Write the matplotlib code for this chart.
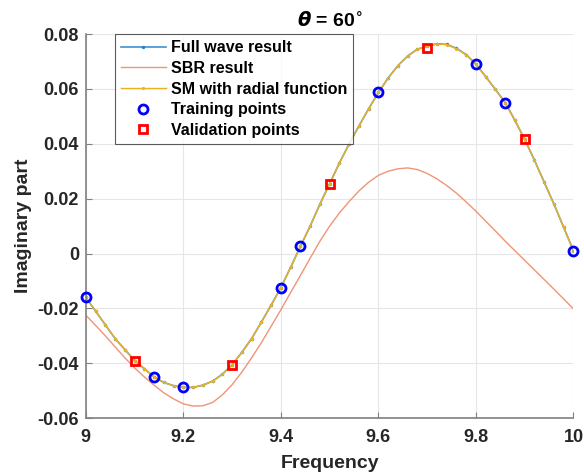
import matplotlib
matplotlib.use("Agg")
import matplotlib.pyplot as plt
import numpy as np

plt.rcParams['font.family'] = ['Liberation Sans', 'DejaVu Sans']
plt.rcParams['font.weight'] = 'bold'

freq_full = [9.00, 9.02, 9.04, 9.06, 9.08, 9.10, 9.12, 9.14, 9.16, 9.18, 9.20, 9.22, 9.24,
             9.26, 9.28, 9.30, 9.32, 9.34, 9.36, 9.38, 9.40, 9.42, 9.44, 9.46, 9.48, 9.50,
             9.52, 9.54, 9.56, 9.58, 9.60, 9.62, 9.64, 9.66, 9.68, 9.70, 9.72, 9.74, 9.76,
             9.78, 9.80, 9.82, 9.84, 9.86, 9.88, 9.90, 9.92, 9.94, 9.96, 9.98, 10.00]
full_wave = [-0.016, -0.021, -0.026, -0.031, -0.035, -0.039, -0.042, -0.045, -0.047, -0.0482,
             -0.0488, -0.0488, -0.048, -0.0465, -0.044, -0.0405, -0.036, -0.031, -0.025, -0.0188,
             -0.0124, -0.005, 0.0026, 0.010, 0.018, 0.0255, 0.033, 0.040, 0.0465, 0.0528,
             0.0587, 0.064, 0.0685, 0.072, 0.0745, 0.0755, 0.0765, 0.0762, 0.0748, 0.0725,
             0.069, 0.0645, 0.0598, 0.055, 0.0485, 0.0416, 0.034, 0.026, 0.018, 0.0095, 0.001]
sm_radial = [-0.016, -0.021, -0.026, -0.031, -0.035, -0.039, -0.042, -0.045, -0.047, -0.0482,
             -0.0488, -0.0488, -0.048, -0.0465, -0.044, -0.0405, -0.036, -0.031, -0.025, -0.0188,
             -0.0124, -0.005, 0.0026, 0.010, 0.018, 0.0255, 0.033, 0.040, 0.0465, 0.0528,
             0.0587, 0.064, 0.0685, 0.072, 0.0745, 0.0755, 0.0764, 0.0761, 0.0747, 0.0724,
             0.069, 0.0645, 0.0598, 0.055, 0.0485, 0.0416, 0.034, 0.026, 0.018, 0.0095, 0.001]

freq_sbr = freq_full
sbr = [-0.0225, -0.0262, -0.030, -0.034, -0.038, -0.0417, -0.045, -0.048, -0.0508, -0.053,
       -0.0548, -0.0556, -0.0555, -0.0543, -0.0515, -0.0478, -0.0432, -0.038, -0.0325, -0.0265,
       -0.0205, -0.0142, -0.008, -0.0017, 0.0045, 0.010, 0.0148, 0.019, 0.0228, 0.026,
       0.0285, 0.0300, 0.0309, 0.0312, 0.0306, 0.0292, 0.0272, 0.0248, 0.0220, 0.0188,
       0.0154, 0.0118, 0.0082, 0.0045, 0.001, -0.0025, -0.006, -0.0095, -0.013, -0.0166, -0.0202]

train_f = [9.00, 9.14, 9.20, 9.40, 9.44, 9.60, 9.80, 9.86, 10.00]
train_v = [-0.016, -0.045, -0.0488, -0.0124, 0.0026, 0.0587, 0.069, 0.055, 0.001]
valid_f = [9.10, 9.30, 9.50, 9.70, 9.90]
valid_v = [-0.039, -0.0405, 0.0255, 0.075, 0.0416]

fig = plt.figure(figsize=(5.84, 4.73), dpi=100)
ax = fig.add_axes([0.147, 0.116, 0.835, 0.812])

ax.plot(freq_full, full_wave, color=(0.1, 0.5, 0.78), lw=1.2, marker='.', ms=3,
        label='Full wave result', alpha=0.85)
ax.plot(freq_sbr, sbr, color=(0.94, 0.58, 0.47), lw=1.0, label='SBR result')
ax.plot(freq_full, sm_radial, color=(0.929, 0.694, 0.125), lw=1.0, marker='.', ms=2.5,
        label='SM with radial function')
ax.plot(train_f, train_v, ls='none', marker='o', ms=6.5, mfc='none', mec='blue', mew=2,
        label='Training points', clip_on=False, zorder=5)
ax.plot(valid_f, valid_v, ls='none', marker='s', ms=5.5, mfc='none', mec='red', mew=2,
        label='Validation points', clip_on=False, zorder=5)

ax.set_xlim(9, 10)
ax.set_ylim(-0.06, 0.08)
ax.set_xticks([9, 9.2, 9.4, 9.6, 9.8, 10])
ax.set_xticklabels(['9', '9.2', '9.4', '9.6', '9.8', '10'])
ax.set_yticks([-0.06, -0.04, -0.02, 0, 0.02, 0.04, 0.06, 0.08])
ax.set_yticklabels(['-0.06', '-0.04', '-0.02', '0', '0.02', '0.04', '0.06', '0.08'])
ax.grid(True, color=(0.9, 0.9, 0.9), lw=0.8)
ax.set_axisbelow(True)
for s in ['top', 'right']:
    ax.spines[s].set_visible(False)
for s in ['left', 'bottom']:
    ax.spines[s].set_color((0.5, 0.5, 0.5))
    ax.spines[s].set_linewidth(1.2)
ax.tick_params(direction='in', length=4, color=(0.5, 0.5, 0.5), labelsize=13,
               labelcolor=(0.15, 0.15, 0.15))
ax.tick_params(axis='x', pad=8)
ax.tick_params(axis='y', pad=5)
for lab in ax.get_xticklabels() + ax.get_yticklabels():
    lab.set_fontweight('bold')

ax.set_xlabel('Frequency', fontsize=14, fontweight='bold', color=(0.15, 0.15, 0.15), labelpad=6)
ax.set_ylabel('Imaginary part', fontsize=14, fontweight='bold', color=(0.15, 0.15, 0.15), labelpad=4)
ax.set_title(r'$\theta$ = 60$^{\circ}$', fontsize=14, fontweight='bold', pad=6)

leg = ax.legend(loc='upper left', bbox_to_anchor=(0.059, 1.0), fontsize=11.5, frameon=True,
                fancybox=False, edgecolor=(0.2, 0.2, 0.2), handlelength=2.8,
                borderpad=0.4, labelspacing=0.35, handletextpad=0.3, borderaxespad=0)
leg.get_frame().set_linewidth(0.8)
for t in leg.get_texts():
    t.set_fontweight('bold')

fig.savefig('out.png', dpi=100)
